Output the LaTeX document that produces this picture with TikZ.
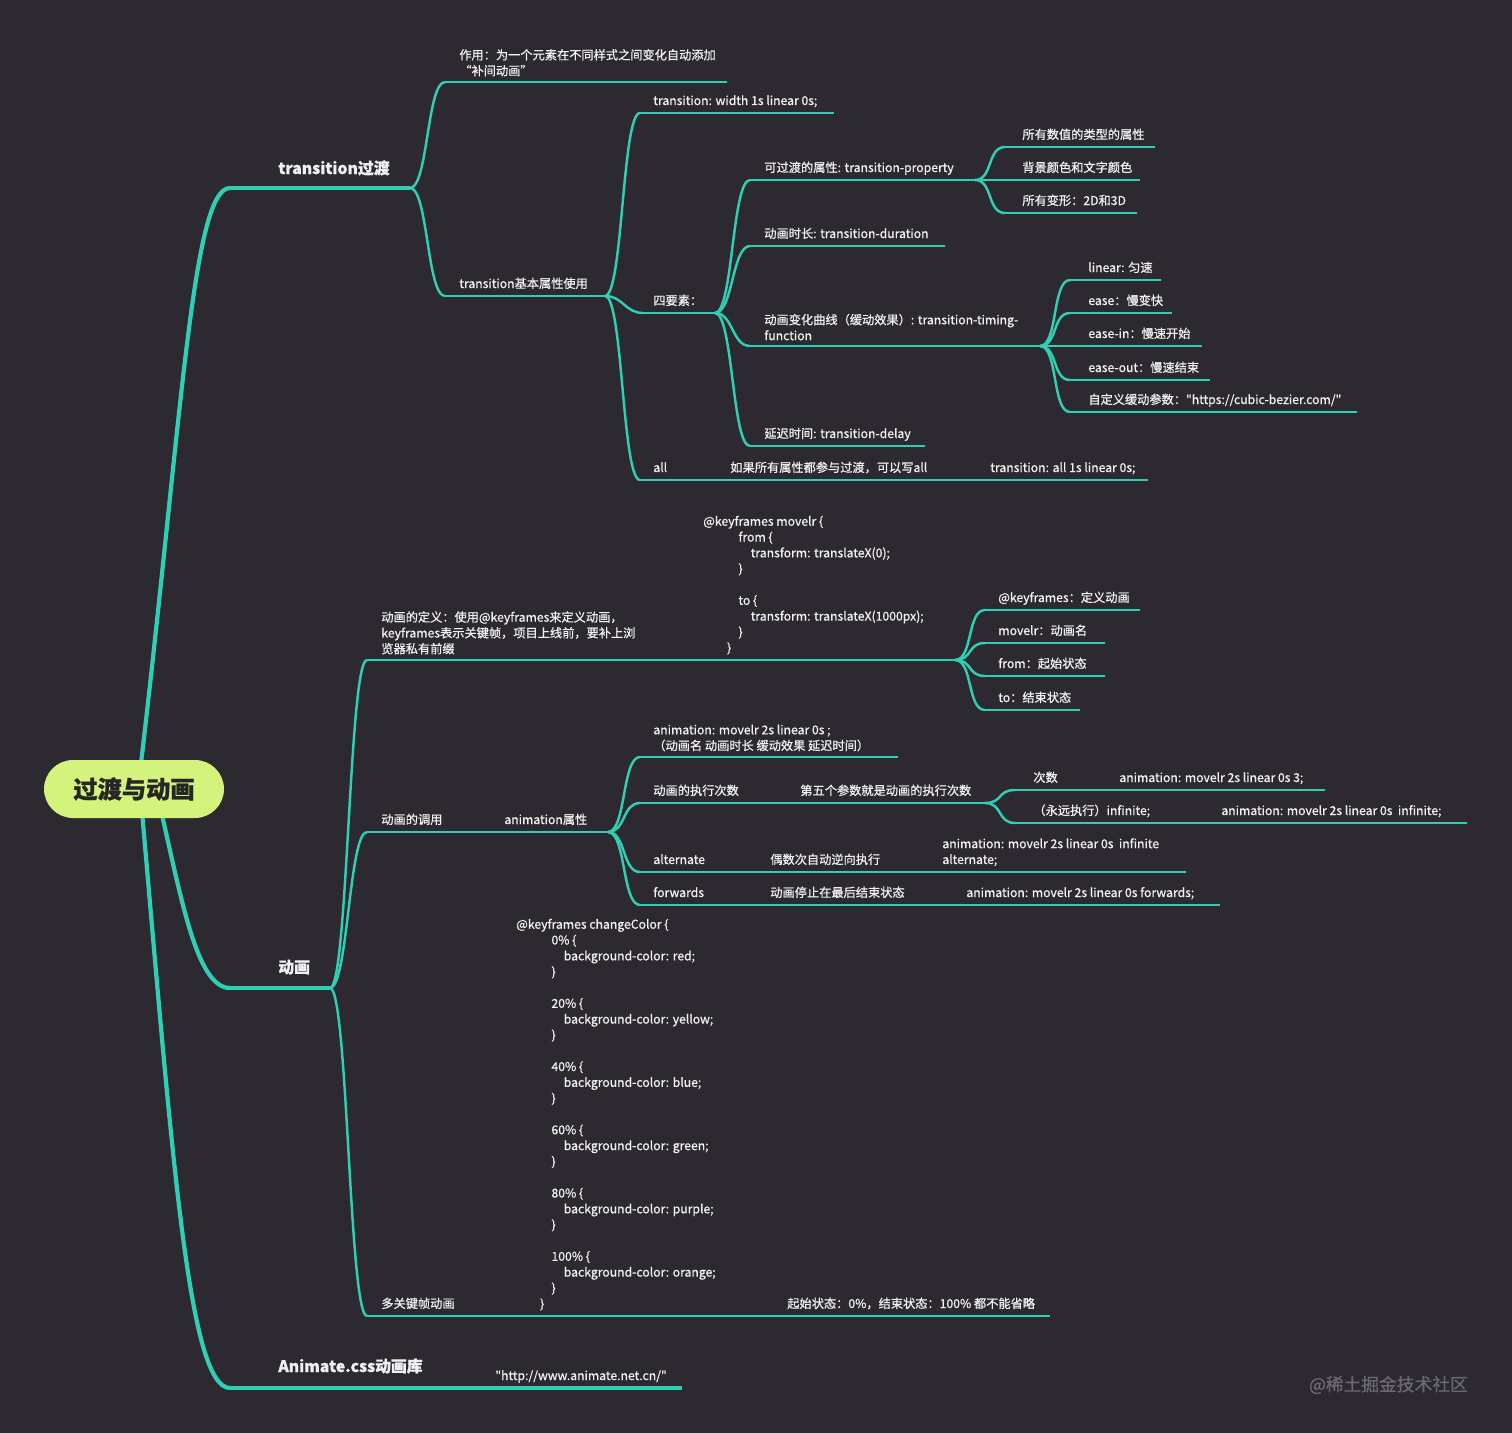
\documentclass[tikz,border=0pt]{standalone}
\usepackage{fontspec}
\setmainfont{Noto Sans CJK SC}[FakeBold=0.8]
\usepackage{tikz}
\usetikzlibrary{calc,backgrounds}
\definecolor{BGc}{RGB}{45,41,49}
\definecolor{LNc}{RGB}{46,207,181}
\definecolor{RTc}{RGB}{212,243,125}
\definecolor{TXc}{RGB}{240,240,240}
\definecolor{WMc}{RGB}{105,104,110}
\tikzset{
  rootbox/.style={rounded corners=0.58cm,fill=RTc,minimum width=3.6cm,minimum height=1.16cm,
                  font=\fontsize{13.8}{16}\selectfont\bfseries,text=black!85},
  lone/.style={font=\fontsize{9}{11}\selectfont\bfseries,text=TXc,inner sep=0pt,anchor=base west},
  tnote/.style={font=\fontsize{6.95}{9}\selectfont,text=TXc,inner sep=0pt,anchor=base west},
  mline/.style={align=left,anchor=south west,yshift=-1.5pt},
  trunk/.style={draw=LNc,line width=2.4pt},
  conn/.style={draw=LNc,line width=1.4pt},
  uline/.style={draw=LNc,line width=1.4pt},
}
% topic: underline from x0 to x1 at y, text at tx
\newcommand{\topic}[7][]{%
  \coordinate (#2-l) at (#3,#5);
  \coordinate (#2-r) at (#4,#5);
  \draw[uline] (#2-l) -- (#2-r);
  \node[tnote,#1] (#2) at ({#6},{#5-8}) {#7};}
\newcommand{\linkto}[2]{\draw[conn] (#1-r) .. controls +(18,0) and +(-18,0) .. (#2-l);}

\begin{document}
\begin{tikzpicture}[x=0.02cm,y=-0.02cm]
  \useasboundingbox (0,0) rectangle (1512,1433);
  \node[rootbox] (root) at (134,789) {过渡与动画};

  % main topics
  \coordinate (trans-l) at (230,188); \coordinate (trans-r) at (410,188);
  \draw[trunk] (trans-l) -- (trans-r);
  \node[lone] (trans) at (278,174) {transition过渡};
  \coordinate (anim-l) at (230,988); \coordinate (anim-r) at (330,988);
  \draw[trunk] (anim-l) -- (anim-r);
  \node[lone] (anim) at (278,973) {动画};
  \coordinate (acss-l) at (230,1388); \coordinate (acss-r) at (470,1388);
  \draw[trunk] (acss-l) -- (acss-r);
  \node[lone] (acss) at (278,1372) {Animate.css动画库};
  \coordinate (url-l) at (470,1388); \coordinate (url-r) at (682,1388);
  \draw[trunk] (url-l) -- (url-r);
  \node[tnote] (url) at (495,1380) {\textquotedbl http://www.animate.net.cn/\textquotedbl};

  % transition
  \topic[mline]{use}{445}{727}{82}{459}{作用：为一个元素在不同样式之间变化自动添加\\“补间动画”}
  \topic{basic}{445}{605}{296}{459}{transition基本属性使用}
  \topic{width}{640}{834}{113}{653}{transition: width 1s linear 0s;}
  \topic{four}{643}{715}{313}{653}{四要素：}
  \topic{all}{640}{715}{480}{653}{all}
  \topic{allc}{715}{940}{480}{730}{如果所有属性都参与过渡，可以写all}
  \topic{alld}{940}{1148}{480}{990}{transition: all 1s linear 0s;}
  \topic{prop}{750}{975}{180}{764}{可过渡的属性: transition-property}
  \topic{dur}{750}{945}{246}{764}{动画时长: transition-duration}
  \topic[mline]{timing}{750}{1040}{346}{764}{动画变化曲线（缓动效果）: transition-timing-\\function}
  \topic{delay}{750}{925}{446}{764}{延迟时间: transition-delay}
  \topic{p1}{1005}{1155}{147}{1022}{所有数值的类型的属性}
  \topic{p2}{1005}{1140}{180}{1022}{背景颜色和文字颜色}
  \topic{p3}{1005}{1137}{213}{1022}{所有变形：2D和3D}
  \topic{lin}{1070}{1161}{280}{1088}{linear: 匀速}
  \topic{ease}{1070}{1172}{313}{1088}{ease：慢变快}
  \topic{easein}{1070}{1202}{346}{1088}{ease-in：慢速开始}
  \topic{easeout}{1070}{1210}{380}{1088}{ease-out：慢速结束}
  \topic{cubic}{1070}{1357}{412}{1088}{自定义缓动参数：\textquotedbl https://cubic-bezier.com/\textquotedbl}

  % animation
  \topic[mline]{def}{367}{690}{660}{381}{动画的定义：使用@keyframes来定义动画，\\keyframes表示关键帧，项目上线前，要补上浏\\览器私有前缀}
  \topic[mline]{defcode}{690}{955}{660}{703}{@keyframes movelr \{\\
    \hspace*{20pt}from \{\\
    \hspace*{27pt}transform: translateX(0);\\
    \hspace*{20pt}\}\\[9pt]
    \hspace*{20pt}to \{\\
    \hspace*{27pt}transform: translateX(1000px);\\
    \hspace*{20pt}\}\\
    \hspace*{13.5pt}\}}
  \topic{k1}{985}{1140}{610}{998}{@keyframes：定义动画}
  \topic{k2}{985}{1105}{643}{998}{movelr：动画名}
  \topic{k3}{985}{1105}{676}{998}{from：起始状态}
  \topic{k4}{985}{1080}{710}{998}{to：结束状态}
  \topic{call}{367}{490}{832}{381}{动画的调用}
  \topic{aprop}{490}{608}{832}{504}{animation属性}
  \topic[mline]{a1}{640}{898}{757}{653}{animation: movelr 2s linear 0s ;\\（动画名 动画时长 缓动效果 延迟时间）}
  \topic{a2}{640}{785}{803}{653}{动画的执行次数}
  \topic{a2c}{785}{985}{803}{800}{第五个参数就是动画的执行次数}
  \topic{n1}{1015}{1105}{790}{1033}{次数}
  \topic{n1c}{1105}{1325}{790}{1119}{animation: movelr 2s linear 0s 3;}
  \topic{n2}{1015}{1205}{823}{1033}{（永远执行）infinite;}
  \topic{n2c}{1205}{1467}{823}{1221}{animation: movelr 2s linear 0s\ \ infinite;}
  \topic{a3}{640}{755}{872}{653}{alternate}
  \topic{a3c}{755}{925}{872}{770}{偶数次自动逆向执行}
  \topic[mline]{a3d}{925}{1186}{872}{942}{animation: movelr 2s linear 0s\ \ infinite\\alternate;}
  \topic{a4}{640}{755}{905}{653}{forwards}
  \topic{a4c}{755}{950}{905}{770}{动画停止在最后结束状态}
  \topic{a4d}{950}{1220}{905}{966}{animation: movelr 2s linear 0s forwards;}
  \topic{multi}{367}{525}{1316}{381}{多关键帧动画}
  \topic[mline]{mcode}{525}{770}{1316}{516}{@keyframes changeColor \{\\
    \hspace*{20pt}0\% \{\\
    \hspace*{27pt}background-color: red;\\
    \hspace*{20pt}\}\\[9pt]
    \hspace*{20pt}20\% \{\\
    \hspace*{27pt}background-color: yellow;\\
    \hspace*{20pt}\}\\[9pt]
    \hspace*{20pt}40\% \{\\
    \hspace*{27pt}background-color: blue;\\
    \hspace*{20pt}\}\\[9pt]
    \hspace*{20pt}60\% \{\\
    \hspace*{27pt}background-color: green;\\
    \hspace*{20pt}\}\\[9pt]
    \hspace*{20pt}80\% \{\\
    \hspace*{27pt}background-color: purple;\\
    \hspace*{20pt}\}\\[9pt]
    \hspace*{20pt}100\% \{\\
    \hspace*{27pt}background-color: orange;\\
    \hspace*{20pt}\}\\
    \hspace*{13.5pt}\}}
  \topic{mnote}{770}{1050}{1316}{787}{起始状态：0\%，结束状态：100\% 都不能省略}

  % connectors
  \linkto{trans}{use} \linkto{trans}{basic}
  \linkto{basic}{width} \linkto{basic}{four} \linkto{basic}{all}
  \linkto{all}{allc} \linkto{allc}{alld}
  \linkto{four}{prop} \linkto{four}{dur} \linkto{four}{timing} \linkto{four}{delay}
  \linkto{prop}{p1} \linkto{prop}{p2} \linkto{prop}{p3}
  \linkto{timing}{lin} \linkto{timing}{ease} \linkto{timing}{easein}
  \linkto{timing}{easeout} \linkto{timing}{cubic}
  \linkto{anim}{def} \linkto{anim}{call} \linkto{anim}{multi}
  \linkto{def}{defcode}
  \linkto{defcode}{k1} \linkto{defcode}{k2} \linkto{defcode}{k3} \linkto{defcode}{k4}
  \linkto{call}{aprop}
  \linkto{aprop}{a1} \linkto{aprop}{a2} \linkto{aprop}{a3} \linkto{aprop}{a4}
  \linkto{a2}{a2c} \linkto{a2c}{n1} \linkto{a2c}{n2}
  \linkto{n1}{n1c} \linkto{n2}{n2c}
  \linkto{a3}{a3c} \linkto{a3c}{a3d}
  \linkto{a4}{a4c} \linkto{a4c}{a4d}
  \linkto{multi}{mcode} \linkto{mcode}{mnote}
  \linkto{acss}{url}

  \node[font=\fontsize{10.1}{12}\selectfont,text=WMc,anchor=east] (mark) at (1474,1385) {@稀土掘金技术社区};

  \begin{scope}[on background layer]
    \fill[BGc] (0,0) rectangle (1512,1433);
    \draw[trunk] ($(root.center)+(4,0)$) .. controls (182,420) and (192,188) .. (trans-l);
    \draw[trunk] ($(root.center)+(22,0)$) .. controls (180,890) and (195,988) .. (anim-l);
    \draw[trunk] ($(root.center)+(6,0)$) .. controls (172,1150) and (188,1388) .. (acss-l);
  \end{scope}
\end{tikzpicture}
\end{document}
